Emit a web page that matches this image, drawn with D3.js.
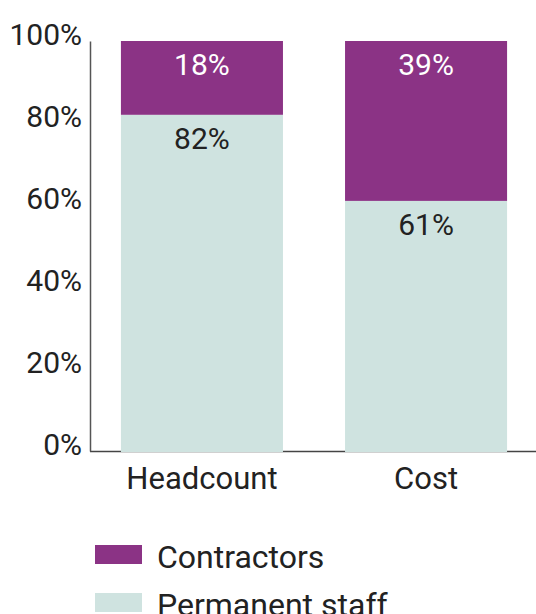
<!DOCTYPE html>
<html>
<head>
<meta charset="utf-8">
<script src="https://cdn.jsdelivr.net/npm/d3@7"></script>
<style>
  html, body { margin: 0; padding: 0; background: #fff; }
  svg { display: block; font-family: Roboto, "Noto Sans", sans-serif; }
</style>
</head>
<body>
<svg id="chart" width="536" height="614"></svg>
<script>
// Share of workforce: headcount vs. cost
const categories = ["Headcount", "Cost"];
const permanent = [0.82, 0.61];
const contractors = [0.18, 0.39];
const tickValues = [0, 0.2, 0.4, 0.6, 0.8, 1.0];
const seriesNames = ["Contractors", "Permanent staff"];

const colors = { "Contractors": "#8b3385", "Permanent staff": "#cfe3e0" };
const textColor = "#222";

const svg = d3.select("#chart");

const x = d3.scaleBand()
  .domain(categories)
  .range([90, 538])
  .paddingInner(0.277)
  .paddingOuter(0.138);

const y = d3.scaleLinear().domain([0, 1]).range([451, 41]);

const rows = categories.map((c, i) => ({
  category: c,
  "Permanent staff": permanent[i],
  "Contractors": contractors[i]
}));

const stack = d3.stack().keys(["Permanent staff", "Contractors"]);
const layers = stack(rows);

// stacked bars
const g = svg.append("g");
layers.forEach(layer => {
  g.selectAll(null)
    .data(layer)
    .join("rect")
    .attr("x", d => x(d.data.category))
    .attr("width", x.bandwidth())
    .attr("y", d => y(d[1]))
    .attr("height", d => y(d[0]) - y(d[1]) + (d[0] === 0 ? 1 : 0))
    .attr("fill", colors[layer.key]);

  // value labels near the top of each segment
  g.selectAll(null)
    .data(layer)
    .join("text")
    .attr("x", d => x(d.data.category) + x.bandwidth() / 2)
    .attr("y", d => y(d[1]) + 34)
    .attr("text-anchor", "middle")
    .attr("font-size", 30)
    .attr("fill", layer.key === "Contractors" ? "#fff" : textColor)
    .text(d => Math.round((d[1] - d[0]) * 100) + "%");
});

// y axis
const yAxis = d3.axisLeft(y)
  .tickValues(tickValues)
  .tickSize(0)
  .tickPadding(8)
  .tickFormat(d3.format(".0%"));

const yg = svg.append("g").attr("transform", "translate(90,0)").call(yAxis);
yg.select(".domain").attr("stroke", "#555").attr("stroke-width", 1.5);
yg.selectAll(".tick text")
  .attr("font-size", 30)
  .attr("font-family", "Roboto, sans-serif")
  .attr("fill", textColor)
  .attr("dy", "0.12em")
  .attr("x", -8);

// x axis
const xAxis = d3.axisBottom(x).tickSize(0).tickPadding(0);
const xg = svg.append("g").attr("transform", "translate(0,451.5)").call(xAxis);
xg.select(".domain").attr("d", "M90,0H536").attr("stroke", "#444").attr("stroke-width", 1.5);
xg.selectAll(".tick text")
  .attr("font-size", 31)
  .attr("font-family", "Roboto, sans-serif")
  .attr("fill", textColor)
  .attr("y", 37)
  .attr("dy", 0);
xg.lower();

// legend
const legend = svg.append("g").attr("transform", "translate(95,545)");
seriesNames.forEach((name, i) => {
  const row = legend.append("g").attr("transform", `translate(0,${i * 48})`);
  row.append("rect").attr("width", 47).attr("height", 19).attr("fill", colors[name]);
  row.append("text")
    .attr("x", 62)
    .attr("y", 23)
    .attr("font-size", 32)
    .attr("fill", textColor)
    .text(name);
});
</script>
</body>
</html>
